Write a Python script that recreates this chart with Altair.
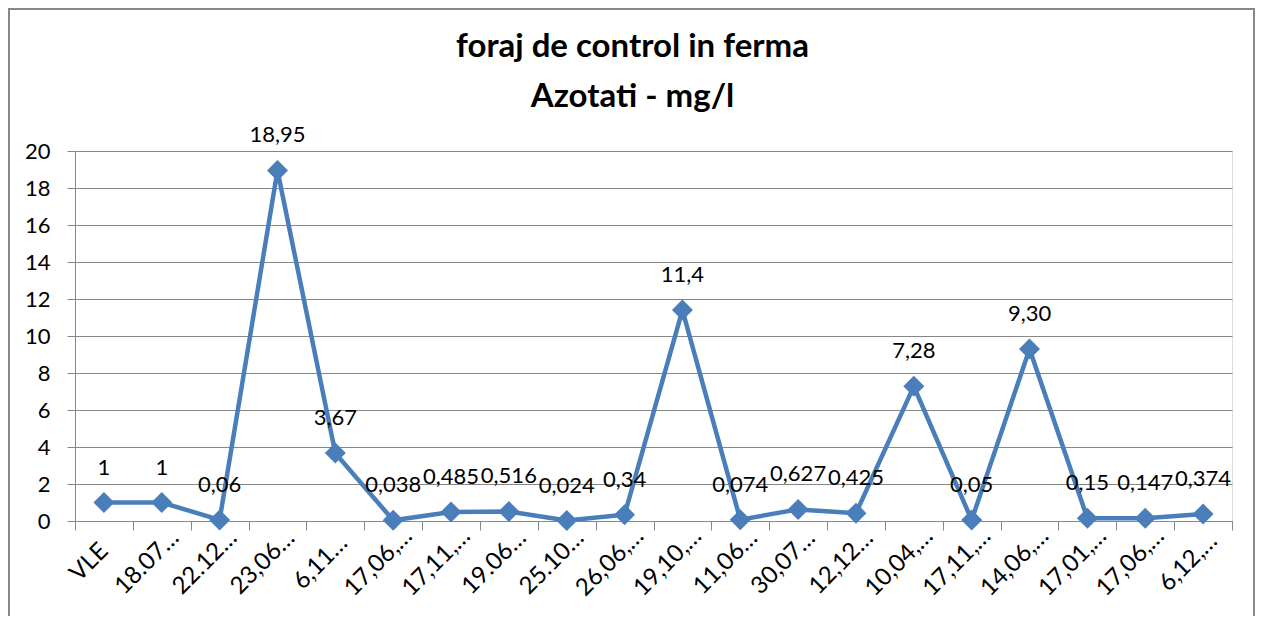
import altair as alt
import pandas as pd

categories = ["VLE", "18.07…", "22.12…", "23,06…", "6,11…", "17,06,…", "17,11,…",
              "19.06…", "25.10…", "26,06,…", "19,10,…", "11,06…", "30,07…", "12,12…",
              "10,04,…", "17,11,…", "14,06,…", "17,01,…", "17,06,…", "6,12,…"]
values = [1, 1, 0.06, 18.95, 3.67, 0.038, 0.485, 0.516, 0.024, 0.34, 11.4, 0.074,
          0.627, 0.425, 7.28, 0.05, 9.30, 0.15, 0.147, 0.374]
value_labels = ["1", "1", "0,06", "18,95", "3,67", "0,038", "0,485", "0,516", "0,024",
                "0,34", "11,4", "0,074", "0,627", "0,425", "7,28", "0,05", "9,30",
                "0,15", "0,147", "0,374"]
y_ticks = list(range(0, 21, 2))
title_lines = ["foraj de control in ferma", "Azotati - mg/l"]

df = pd.DataFrame({"idx": list(range(len(categories))), "value": values, "label": value_labels})

FONT = "Lato"
BLUE = "#4a7ebb"
GRAY = "#878787"

label_array = "[" + ",".join("'" + c + "'" for c in categories) + "]"

x_enc = alt.X(
    "idx:O",
    scale=alt.Scale(type="band", paddingInner=0, paddingOuter=0),
    axis=alt.Axis(
        title=None,
        labelExpr=label_array + "[datum.value]",
        labelAngle=-45,
        labelAlign="center",
        labelBaseline="middle",
        labelPadding=32,
        labelOffset=-15,
        labelFont=FONT,
        labelFontSize=24,
        labelColor="black",
        tickBand="extent",
        tickSize=9,
        tickColor=GRAY,
        domainColor=GRAY,
        grid=False,
    ),
)
y_enc = alt.Y(
    "value:Q",
    scale=alt.Scale(domain=[0, 20], nice=False),
    axis=alt.Axis(
        title=None,
        values=y_ticks,
        labelFont=FONT,
        labelFontSize=22,
        labelColor="black",
        labelPadding=17,
        tickSize=8,
        tickColor=GRAY,
        domainColor=GRAY,
        gridColor=GRAY,
        gridWidth=1,
    ),
)

base = alt.Chart(df).encode(x=x_enc, y=y_enc)

line = base.mark_line(color=BLUE, strokeWidth=4.5)
points = base.mark_point(shape="diamond", filled=True, size=441, color=BLUE, opacity=1)
texts = base.mark_text(font=FONT, fontSize=22, color="black", dy=-28,
                       baseline="alphabetic", align="center").encode(text="label:N")

frame = alt.Chart(pd.DataFrame({"f": [0]})).mark_rect(
    fill="transparent", stroke=GRAY, strokeWidth=2
).encode(
    x=alt.value(-66), x2=alt.value(1179), y=alt.value(-142), y2=alt.value(600)
)

chart = alt.layer(frame, line, points, texts).properties(
    width=1157,
    height=370,
    autosize=alt.AutoSizeParams(type="none"),
    padding={"left": 67, "top": 143, "right": 23, "bottom": 95},
    title=alt.TitleParams(
        title_lines,
        font=FONT,
        fontSize=33,
        fontWeight="bold",
        color="black",
        anchor="middle",
        frame="group",
        baseline="bottom",
        dx=-21,
        offset=-139,
        lineHeight=50,
    ),
).configure_view(strokeWidth=0).configure(background="white")

chart.save("out.html", embed_options={"renderer": "svg", "actions": False})
